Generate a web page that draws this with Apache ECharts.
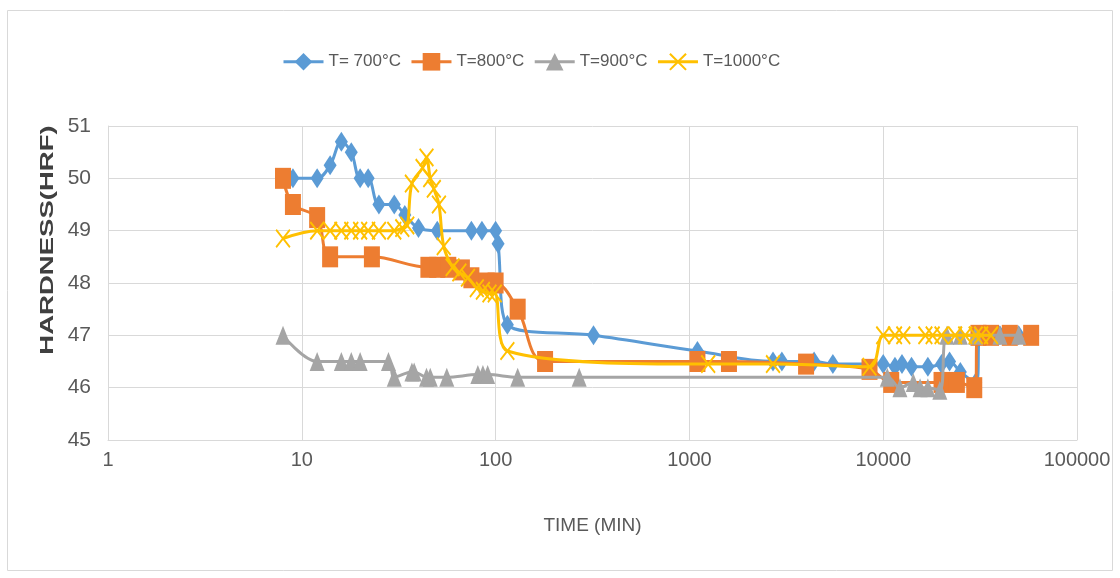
<!DOCTYPE html>
<html>
<head>
<meta charset="utf-8">
<script src="https://cdn.jsdelivr.net/npm/echarts@6/dist/echarts.min.js"></script>
<style>
html,body{margin:0;padding:0;background:#fff;}
#chart{width:1120px;height:578px;}
</style>
</head>
<body>
<div id="chart"></div>
<script>
// ---- data (time in minutes, hardness HRF) ----
const seriesNames = ['T= 700°C', 'T=800°C', 'T=900°C', 'T=1000°C'];

const t700 = [9,12,14,16,18,20,22,25,30,34,40,50,75,85,100,103,115,320,1100,2700,3000,4400,5500,10000,11500,12500,14000,17000,20000,22000,25000,30000,32000,40000,50000];
const h700 = [50.0,50.0,50.25,50.7,50.5,50.0,50.0,49.5,49.5,49.3,49.05,49.0,49.0,49.0,49.0,48.75,47.2,47.0,46.7,46.5,46.5,46.5,46.45,46.45,46.4,46.45,46.4,46.4,46.45,46.5,46.3,46.1,47.0,47.0,47.0];

const t800 = [8,9,12,14,23,45,50,57,67,75,90,100,130,180,1100,1600,4000,8500,11000,20000,24000,29500,31000,36000,45000,58000];
const h800 = [50.0,49.5,49.25,48.5,48.5,48.3,48.3,48.3,48.25,48.1,48.0,48.0,47.5,46.5,46.5,46.5,46.45,46.35,46.1,46.1,46.1,46.0,47.0,47.0,47.0,47.0];

const t900 = [8,12,16,18,20,28,30,37,38,44,46,56,81,86,91,130,270,10500,12200,14300,15500,17000,19600,21300,25000,30000,40000,50000];
const h900 = [47.0,46.5,46.5,46.5,46.5,46.5,46.2,46.3,46.3,46.2,46.2,46.2,46.25,46.25,46.25,46.2,46.2,46.2,46.0,46.1,46.0,46.0,45.95,47.0,47.0,47.0,47.0,47.0];

const t1000 = [8,12,14,16,18,20,22,25,30,33,35,37,42,44,46,48,51,54,60,65,72,80,86,93,99,115,1250,2700,8500,10000,11500,12700,16500,18000,20000,23500,26500,30000,32000,36000];
const h1000 = [48.85,49.0,49.0,49.0,49.0,49.0,49.0,49.0,49.0,49.05,49.1,49.9,50.2,50.4,50.0,49.8,49.5,48.7,48.3,48.2,48.1,47.9,47.85,47.8,47.8,46.7,46.45,46.45,46.4,47.0,47.0,47.0,47.0,47.0,47.0,47.0,47.0,47.0,47.0,47.0];

const xTickLabels = ['1','10','100','1000','10000','100000'];
const yTickLabels = ['45','46','47','48','49','50','51'];

// ---- chart ----
const zip = (t, h) => t.map((v, i) => [v, h[i]]);
const font = "'Liberation Sans',Arial,sans-serif";
const xSymbol = 'path://M1,0 L6,5 L11,0 L12,1 L7,6 L12,11 L11,12 L6,7 L1,12 L0,11 L5,6 L0,1 Z';

const colors = ['#5B9BD5', '#ED7D31', '#A5A5A5', '#FFC000'];
const symbols = ['diamond', 'rect', 'triangle', xSymbol];
const sizes = [[13,20], [16,21], [15,19], [15,19]];
const datas = [zip(t700,h700), zip(t800,h800), zip(t900,h900), zip(t1000,h1000)];

const chart = echarts.init(document.getElementById('chart'));
chart.setOption({
  animation: false,
  color: colors,
  grid: { left: 108, right: 43, top: 126, bottom: 138, containLabel: false },
  legend: {
    left: 277, top: 48,
    itemWidth: 40, itemHeight: 22, itemGap: 9,
    lineStyle: { width: 3 },
    textStyle: { fontFamily: font, fontSize: 17, color: '#595959' },
    data: seriesNames
  },
  xAxis: {
    type: 'log', logBase: 10,
    min: Number(xTickLabels[0]), max: Number(xTickLabels[xTickLabels.length-1]),
    name: 'TIME (MIN)', nameLocation: 'middle', nameGap: 76,
    nameTextStyle: { fontFamily: font, fontSize: 19, color: '#595959' },
    axisLine: { show: true, lineStyle: { color: '#D9D9D9', width: 1 } },
    axisTick: { show: false },
    axisLabel: {
      margin: 10, fontFamily: font, fontSize: 20, color: '#595959',
      formatter: v => xTickLabels[Math.round(Math.log10(v))] || ''
    },
    splitLine: { show: true, lineStyle: { color: '#D9D9D9', width: 1 } },
    minorTick: { show: false }
  },
  yAxis: {
    type: 'value',
    min: Number(yTickLabels[0]), max: Number(yTickLabels[yTickLabels.length-1]), interval: 1,
    axisLine: { show: true, lineStyle: { color: '#D9D9D9', width: 1 } },
    axisTick: { show: false },
    axisLabel: { margin: 17, fontFamily: font, fontSize: 21, color: '#595959' },
    splitLine: { show: true, lineStyle: { color: '#D9D9D9', width: 1 } }
  },
  graphic: [
    { type: 'rect', silent: true, z: -1,
      shape: { x: 7.5, y: 10.5, width: 1105, height: 560 },
      style: { fill: 'none', stroke: '#D9D9D9', lineWidth: 1 } },
    { type: 'text', x: 48, y: 240, rotation: Math.PI / 2, scaleX: 1.53,
      style: { text: 'HARDNESS(HRF)', fontFamily: font,
               fontWeight: 'bold', fontSize: 18, fill: '#404040', align: 'center', verticalAlign: 'middle' } }
  ],
  series: seriesNames.map((name, i) => ({
    name: name,
    type: 'line',
    smooth: 0.35,
    data: datas[i],
    symbol: symbols[i],
    symbolSize: sizes[i],
    lineStyle: { width: 3, color: colors[i] },
    itemStyle: { color: colors[i] },
    z: 2 + i
  }))
});
</script>
</body>
</html>
